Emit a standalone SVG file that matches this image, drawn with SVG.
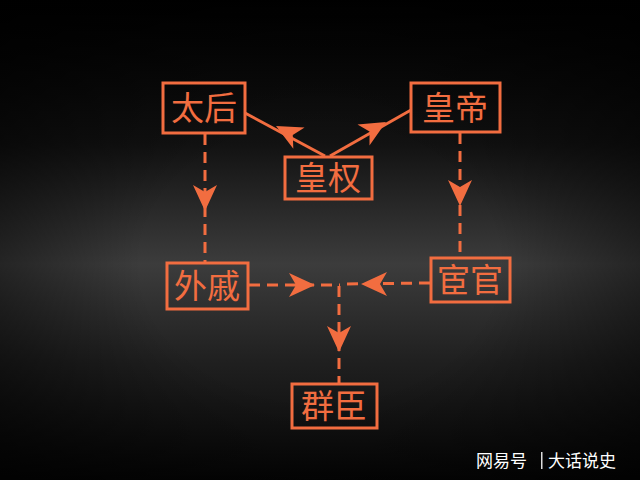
<svg xmlns="http://www.w3.org/2000/svg" width="640" height="480" viewBox="0 0 640 480">
<defs>
<linearGradient id="bg" x1="0" y1="0" x2="0" y2="1">
<stop offset="0" stop-color="#000"/>
<stop offset="0.3" stop-color="#121212"/>
<stop offset="0.55" stop-color="#3c3c3c"/>
<stop offset="0.75" stop-color="#202020"/>
<stop offset="1" stop-color="#050505"/>
</linearGradient>
<radialGradient id="vig" cx="0.5" cy="0.55" r="0.7">
<stop offset="0.4" stop-color="#000" stop-opacity="0"/>
<stop offset="1" stop-color="#000" stop-opacity="0.75"/>
</radialGradient>
<path id="ah" d="M0,0 L-26,-12 L-19,0 L-26,12 Z"/>
<style>
.box{fill:none;stroke:#f26d40;stroke-width:3}
.lbl{fill:#f26d40;font-family:"Noto Sans CJK SC",sans-serif;font-size:33px;text-anchor:middle}
.ln{stroke:#f26d40;stroke-width:3;fill:none}
.dash{stroke-dasharray:11 7}
.head{fill:#f26d40}
</style>
</defs>
<rect width="640" height="480" fill="url(#bg)"/>
<rect width="640" height="480" fill="url(#vig)"/>
<g id="connectors">
<line class="ln" x1="325" y1="156" x2="245" y2="113"/>
<use href="#ah" class="head" transform="translate(276,126) rotate(208)"/>
<line class="ln" x1="330" y1="156" x2="411" y2="110"/>
<use href="#ah" class="head" transform="translate(386,122) rotate(-30)"/>
<line class="ln dash" x1="205" y1="134" x2="205" y2="263"/>
<use href="#ah" class="head" transform="translate(205,211) rotate(90)"/>
<line class="ln dash" x1="460" y1="133" x2="460" y2="258"/>
<use href="#ah" class="head" transform="translate(460,206) rotate(90)"/>
<line class="ln dash" x1="249" y1="285" x2="340" y2="285"/>
<use href="#ah" class="head" transform="translate(315,285)"/>
<line class="ln dash" x1="430" y1="283" x2="340" y2="284"/>
<use href="#ah" class="head" transform="translate(361,284) rotate(180)"/>
<line class="ln dash" x1="339" y1="286" x2="339" y2="383"/>
<use href="#ah" class="head" transform="translate(339,352) rotate(90)"/>
</g>
<g id="taihou"><rect class="box" x="163" y="83" width="82" height="50"/><text class="lbl" x="204" y="120">太后</text></g>
<g id="huangdi"><rect class="box" x="411" y="83" width="89" height="49"/><text class="lbl" x="455" y="120">皇帝</text></g>
<g id="huangquan"><rect class="box" x="285" y="157" width="87" height="42"/><text class="lbl" x="328" y="190">皇权</text></g>
<g id="waiqi"><rect class="box" x="167" y="263" width="81" height="46"/><text class="lbl" x="207" y="298">外戚</text></g>
<g id="huanguan"><rect class="box" x="431" y="258" width="79" height="44"/><text class="lbl" x="470" y="292">宦官</text></g>
<g id="qunchen"><rect class="box" x="292" y="384" width="85" height="44"/><text class="lbl" x="334" y="418">群臣</text></g>
<g id="watermark"><text x="476" y="467" fill="#fff" font-family="Noto Sans CJK SC,sans-serif" font-size="17">网易号</text><rect x="541" y="452" width="1.5" height="17" fill="#ddd"/><text x="548" y="467" fill="#fff" font-family="Noto Sans CJK SC,sans-serif" font-size="17">大话说史</text></g>
</svg>
